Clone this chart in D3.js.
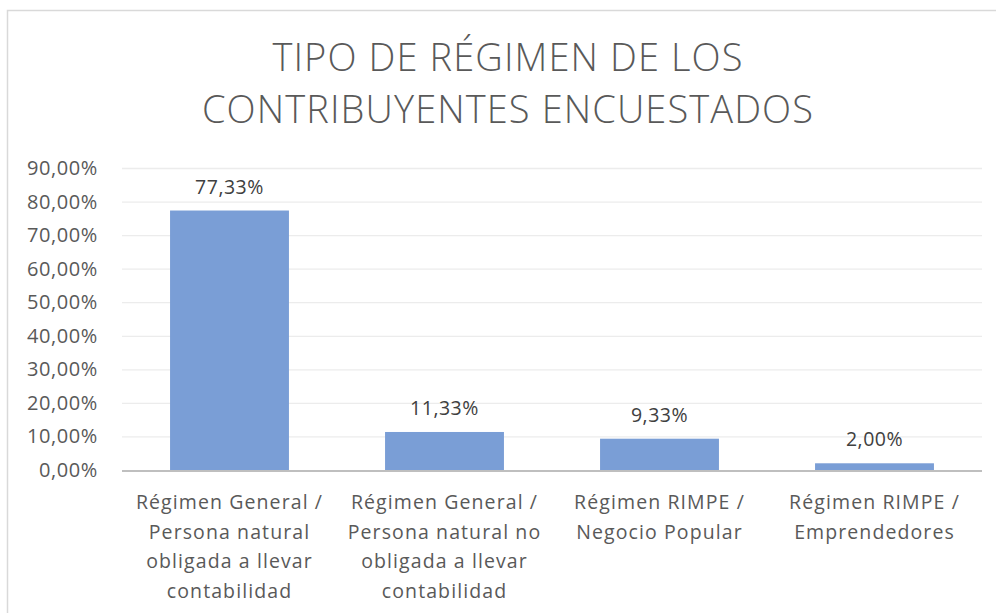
<!DOCTYPE html>
<html lang="es">
<head>
<meta charset="utf-8">
<style>
  body { margin: 0; background: #fff; }
  svg { display: block; font-family: "Open Sans", sans-serif; }
  .grid line { stroke: #ececec; stroke-width: 1.3px; }
  .grid .domain { display: none; }
  .ytick { fill: #595959; font-size: 20px; letter-spacing: 0.6px; }
  .xcat { fill: #595959; font-size: 19.5px; letter-spacing: 1.1px; }
  .vlabel { fill: #404040; font-size: 19.5px; letter-spacing: 0.5px; }
  .title { fill: #595959; font-size: 38px; font-weight: 300; letter-spacing: 1.1px; }
</style>
<script src="https://d3js.org/d3.v7.min.js"></script>
</head>
<body>
<script>
var width = 996, height = 613;

// data
var categories = [
  ["Régimen General /", "Persona natural", "obligada a llevar", "contabilidad"],
  ["Régimen General /", "Persona natural no", "obligada a llevar", "contabilidad"],
  ["Régimen RIMPE /", "Negocio Popular"],
  ["Régimen RIMPE /", "Emprendedores"]
];
var values = [0.7733, 0.1133, 0.0933, 0.02];
var yTicks = [0, 0.1, 0.2, 0.3, 0.4, 0.5, 0.6, 0.7, 0.8, 0.9];
var titleLines = ["TIPO DE RÉGIMEN DE LOS", "CONTRIBUYENTES ENCUESTADOS"];

var fmt = function(v) { return d3.format(".2f")(v * 100).replace(".", ",") + "%"; };

var svg = d3.select("body").append("svg")
    .attr("width", width)
    .attr("height", height);

// chart border (runs off the right/bottom edge)
svg.append("rect")
    .attr("x", 7.5).attr("y", 10.5)
    .attr("width", 1002).attr("height", 620)
    .attr("fill", "#fff")
    .attr("stroke", "#d9d9d9")
    .attr("stroke-width", 1.5);

var plotL = 122, plotR = 982, plotT = 168, plotB = 470;

var x = d3.scaleBand()
    .domain(d3.range(categories.length))
    .range([plotL, plotR])
    .paddingInner(0.447)
    .paddingOuter(0.2235);

var y = d3.scaleLinear()
    .domain([0, 0.9])
    .range([plotB, plotT]);

// title
svg.append("g").selectAll("text")
    .data(titleLines)
    .enter().append("text")
    .attr("class", "title")
    .attr("x", 508)
    .attr("y", function(d, i) { return 71 + i * 52; })
    .attr("text-anchor", "middle")
    .text(function(d) { return d; });

// gridlines
svg.append("g")
    .attr("class", "grid")
    .attr("transform", "translate(" + plotL + ",0)")
    .call(d3.axisRight(y).tickValues(yTicks.slice(1)).tickSize(plotR - plotL).tickFormat(""));

// y tick labels
svg.append("g").selectAll("text")
    .data(yTicks)
    .enter().append("text")
    .attr("class", "ytick")
    .attr("x", 98)
    .attr("y", function(d) { return y(d) + 7; })
    .attr("text-anchor", "end")
    .text(fmt);

// bars
svg.append("g").selectAll("rect")
    .data(values)
    .enter().append("rect")
    .attr("x", function(d, i) { return x(i); })
    .attr("y", function(d) { return y(d); })
    .attr("width", x.bandwidth())
    .attr("height", function(d) { return plotB - y(d); })
    .attr("fill", "#7a9ed6");

// x axis line
svg.append("line")
    .attr("x1", plotL).attr("x2", plotR)
    .attr("y1", plotB + 1).attr("y2", plotB + 1)
    .attr("stroke", "#bfbfbf")
    .attr("stroke-width", 2);

// value labels
svg.append("g").selectAll("text")
    .data(values)
    .enter().append("text")
    .attr("class", "vlabel")
    .attr("x", function(d, i) { return x(i) + x.bandwidth() / 2; })
    .attr("y", function(d) { return y(d) - 17; })
    .attr("text-anchor", "middle")
    .text(fmt);

// category labels
var cats = svg.append("g").selectAll("text")
    .data(categories)
    .enter().append("text")
    .attr("class", "xcat")
    .attr("text-anchor", "middle")
    .attr("transform", function(d, i) { return "translate(" + (x(i) + x.bandwidth() / 2) + ",509)"; });

cats.selectAll("tspan")
    .data(function(d) { return d; })
    .enter().append("tspan")
    .attr("x", 0)
    .attr("y", function(d, i) { return i * 29.5; })
    .text(function(d) { return d; });
</script>
</body>
</html>
